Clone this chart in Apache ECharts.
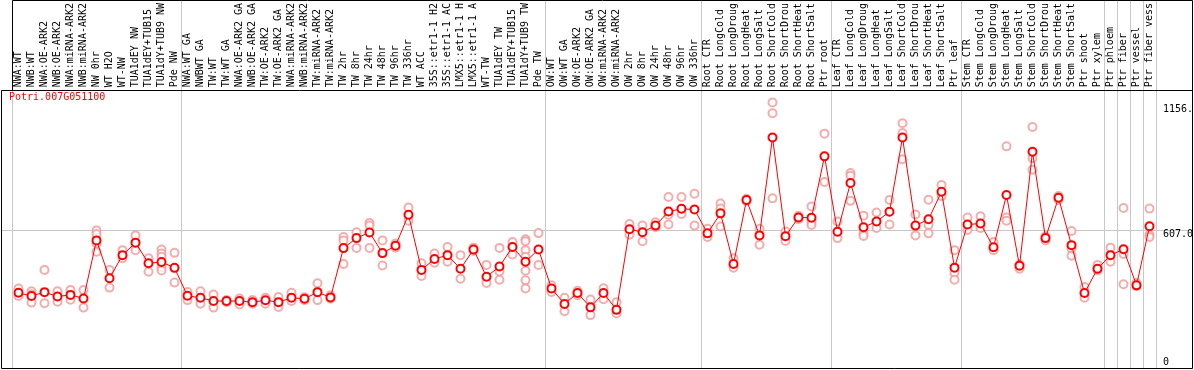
<!DOCTYPE html>
<html>
<head>
<meta charset="utf-8">
<script src="https://cdn.jsdelivr.net/npm/echarts@6/dist/echarts.min.js"></script>
<style>
html,body{margin:0;padding:0;background:#fff;}
#chart{width:1194px;height:370px;}
</style>
</head>
<body>
<div id="chart"></div>
<script>
var geneName = 'Potri.007G051100';

var categories = [
  'NWA:WT','NWB:WT','NWA:OE-ARK2','NWB:OE-ARK2','NWA:miRNA-ARK2','NWB:miRNA-ARK2','NW 0hr','WT H2O','WT-NW','TUA1dEY NW','TUA1dEY+TUB15','TUA1dY+TUB9 NW','Pde NW',
  'NWA:WT GA','NWBWT GA','TW:WT','TW:WT GA','NWA:OE-ARK2 GA','NWB:OE-ARK2 GA','TW:OE-ARK2','TW:OE-ARK2 GA','NWA:miRNA-ARK2','NWB:miRNA-ARK2','TW:miRNA-ARK2','TW:miRNA-ARK2','TW 2hr','TW 8hr','TW 24hr','TW 48hr','TW 96hr','TW 336hr','WT ACC','35S::etr1-1 H2','35S::etr1-1 AC','LMX5::etr1-1 H','LMX5::etr1-1 A','WT-TW','TUA1dEY TW','TUA1dEY+TUB15','TUA1dY+TUB9 TW','Pde TW',
  'OW:WT','OW:WT GA','OW:OE-ARK2','OW:OE-ARK2 GA','OW:miRNA-ARK2','OW:miRNA-ARK2','OW 2hr','OW 8hr','OW 24hr','OW 48hr','OW 96hr','OW 336hr',
  'Root CTR','Root LongCold','Root LongDroug','Root LongHeat','Root LongSalt','Root ShortCold','Root ShortDrou','Root ShortHeat','Root ShortSalt','Ptr root',
  'Leaf CTR','Leaf LongCold','Leaf LongDroug','Leaf LongHeat','Leaf LongSalt','Leaf ShortCold','Leaf ShortDrou','Leaf ShortHeat','Leaf ShortSalt','Ptr leaf',
  'Stem CTR','Stem LongCold','Stem LongDroug','Stem LongHeat','Stem LongSalt','Stem ShortCold','Stem ShortDrou','Stem ShortHeat','Stem ShortSalt','Ptr shoot','Ptr xylem',
  'Ptr phloem','Ptr fiber','Ptr vessel','Ptr fiber vess'
];

var groupSizes = [13, 28, 12, 10, 10, 11, 1, 1, 1, 1];

var meanValues = [
  331,317,334,315,322,306,562,395,497,552,461,467,441,
  318,309,295,295,295,290,298,290,309,305,334,311,528,572,597,506,538,675,432,480,497,437,522,402,447,533,468,522,
  350,282,330,267,330,256,611,598,627,689,701,698,
  593,681,458,740,584,1015,580,663,662,932,
  600,815,620,645,688,1015,627,655,776,442,
  632,636,532,762,450,952,572,750,541,330,437,
  497,523,364,624
];

var replicateValues = [
  [350,317],[338,288,325],[432,285],[338,292],[344,301],[343,266],[606,590,548,512],[432,354],[519,483],[584,519],[483,424],[522,504,490,444,429],[507,376],
  [335,299],[338,283],[324,266],[300,290],[306,280],[300,283],[309,283],[313,269],[331,295],[312,298],[373,299],[320,305],[577,562,458],[598,529],[639,627,529],[562,451],[548,530],[707,649],[461,405],[504,464],[533,468],[497,393],[530,515],[454,374],[529,425,389],[555,500],[567,558,519,490,428,386,350],[594,454],
  [364,335],[309,250],[340,320],[302,233],[351,303],[290,240],[634,587],[627,558],[642,620],[753,675,632],[753,678],[767,627],
  [613,577],[724,702,623],[483,442],[745,735],[613,543],[1169,1122,747],[601,559],[670,655],[711,642,630],[1032,819],
  [645,572],[859,847,736],[671,591,581],[685,617],[740,632],[1078,1035,919],[676,584],[741,630,593],[806,757],[519,418,389],
  [663,608],[668,617],[555,519],[976,663,649],[457,437],[1061,924,873],[562,580],[757,740],[603,526,494],[357,309],[454,430],
  [530,468],[705,502,369],[374,360],[702,587,577]
];

var yMax = 1223;
var yTickValues = [1156, 607, 0];
var yTickLabels = ['1156.', '607.0', '0'];
var refLineValue = 607;

var FONT = 'DejaVu Sans Mono';

var repPoints = [];
replicateValues.forEach(function (arr, i) {
  arr.forEach(function (v) { repPoints.push([i, v]); });
});

var chart = echarts.init(document.getElementById('chart'), null, {renderer: 'canvas'});

var option = {
  animation: false,
  backgroundColor: '#fff',
  title: {
    text: geneName,
    left: 9, top: 92, padding: 0,
    textStyle: {color: '#ff0000', fontSize: 10, fontWeight: 'normal', fontFamily: FONT}
  },
  grid: {left: 12, right: 38, top: 86, bottom: 2, containLabel: false},
  xAxis: {
    type: 'category',
    data: categories,
    position: 'top',
    boundaryGap: true,
    axisLine: {show: false},
    axisTick: {show: false},
    splitLine: {show: false},
    axisLabel: {
      interval: 0, rotate: 90, margin: 3,
      color: '#000', fontSize: 10, fontFamily: FONT
    }
  },
  yAxis: {
    type: 'value', min: 0, max: yMax,
    show: false,
    splitLine: {show: false}
  },
  series: [
    {
      type: 'scatter',
      data: repPoints,
      symbol: 'emptyCircle',
      symbolSize: 8,
      itemStyle: {color: '#ee9a9a', borderColor: '#ee9a9a', borderWidth: 1.2},
      z: 2
    },
    {
      type: 'line',
      data: meanValues,
      symbol: 'emptyCircle',
      symbolSize: 8,
      lineStyle: {color: '#ff0000', width: 1},
      itemStyle: {color: '#ff0000', borderColor: '#ff0000', borderWidth: 1.5},
      z: 3
    }
  ]
};

chart.setOption(option);

// frame, separators and y labels positioned through the chart's own scales
var x0 = chart.convertToPixel({xAxisIndex: 0}, 0);
var x1 = chart.convertToPixel({xAxisIndex: 0}, 1);
var bw = x1 - x0;
var topY = chart.convertToPixel({yAxisIndex: 0}, yMax);
var botY = chart.convertToPixel({yAxisIndex: 0}, 0);
var W = 1194;
var crisp = function (v) { return Math.round(v) + 0.5; };

var graphics = [];
var gray = '#c8c8c8';

// group separators
var idx = 0;
var bounds = [0];
groupSizes.forEach(function (s) { idx += s; bounds.push(idx); });
bounds.forEach(function (k) {
  var x = chart.convertToPixel({xAxisIndex: 0}, Math.min(k, categories.length - 1)) + (k >= categories.length ? bw / 2 : -bw / 2);
  var cx = crisp(x - 0.5);
  graphics.push({type: 'line', shape: {x1: cx, y1: 0, x2: cx, y2: crisp(botY)}, style: {stroke: gray, lineWidth: 1}, z: 0});
});

// reference horizontal line
var ry = crisp(chart.convertToPixel({yAxisIndex: 0}, refLineValue));
graphics.push({type: 'line', shape: {x1: 1, y1: ry, x2: W - 1, y2: ry}, style: {stroke: gray, lineWidth: 1}, z: 0});

// outer frame
var firstX = crisp(chart.convertToPixel({xAxisIndex: 0}, 0) - bw / 2 - 0.5);
var tY = crisp(topY - 0.5);
var bY = crisp(botY - 0.5);
graphics.push({type: 'polyline', shape: {points: [[1.5, tY], [1.5, bY], [W - 1.5, bY], [W - 1.5, 0.5], [firstX, 0.5], [firstX, tY]]}, style: {stroke: '#000', lineWidth: 1, fill: null}, z: 1});
graphics.push({type: 'line', shape: {x1: 1.5, y1: tY, x2: W - 1.5, y2: tY}, style: {stroke: '#000', lineWidth: 1}, z: 1});

// y tick labels
var lastX = chart.convertToPixel({xAxisIndex: 0}, categories.length - 1) + bw / 2;
yTickValues.forEach(function (v, i) {
  var py = chart.convertToPixel({yAxisIndex: 0}, v);
  var isMin = v === 0;
  graphics.push({
    type: 'text',
    x: lastX + 7, y: py - 1,
    style: {
      text: yTickLabels[i], fill: '#000', fontSize: 10, fontFamily: FONT,
      textAlign: 'left', textVerticalAlign: isMin ? 'bottom' : 'top'
    },
    z: 5
  });
});

chart.setOption({graphic: graphics});
</script>
</body>
</html>
